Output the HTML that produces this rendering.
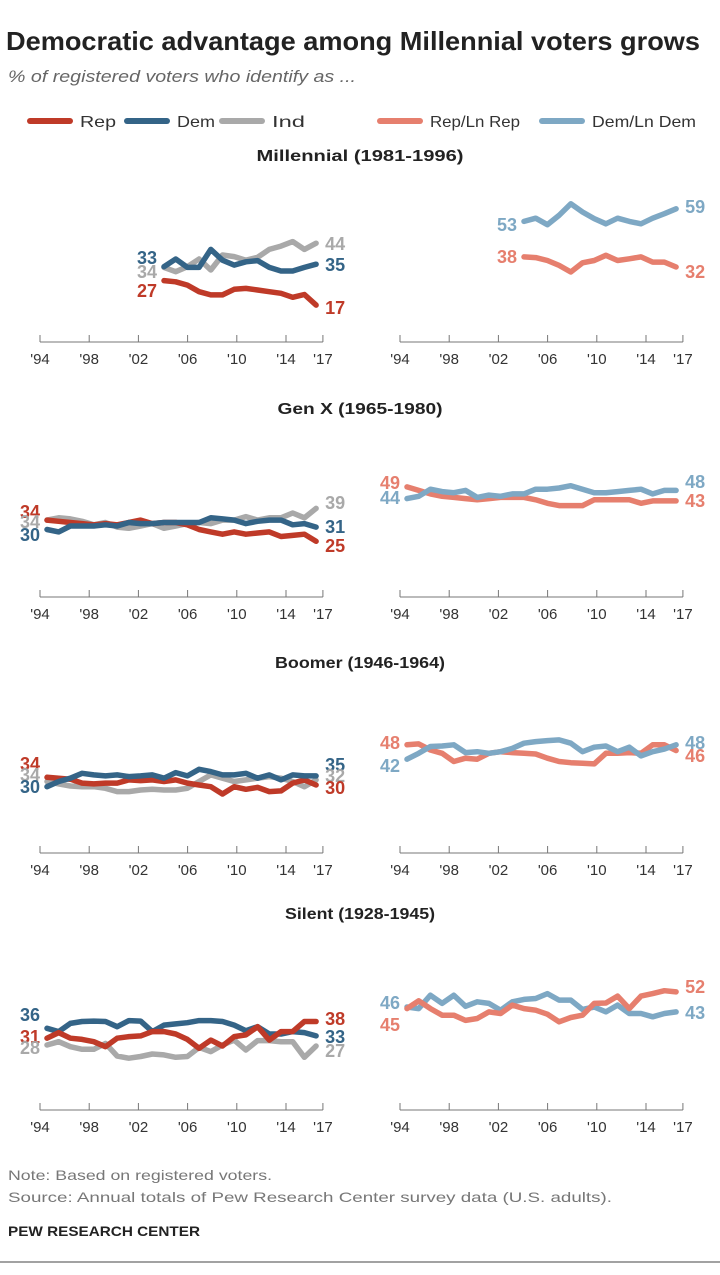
<!DOCTYPE html>
<html><head><meta charset="utf-8">
<style>
body{margin:0;background:#fff;}
svg text{font-family:"Liberation Sans",sans-serif;}
</style></head>
<body>
<svg id="c" width="720" height="1270" viewBox="0 0 720 1270" xmlns="http://www.w3.org/2000/svg">
<text x="6" y="50" font-size="26" font-weight="bold" fill="#222" textLength="694" lengthAdjust="spacingAndGlyphs">Democratic advantage among Millennial voters grows</text>
<text x="8" y="82" font-size="17" font-style="italic" fill="#666" textLength="348" lengthAdjust="spacingAndGlyphs">% of registered voters who identify as ...</text>
<g id="legend"></g>
<g id="panels"></g>
<text x="8" y="1180" font-size="14" fill="#777" textLength="264" lengthAdjust="spacingAndGlyphs">Note: Based on registered voters.</text>
<text x="8" y="1202" font-size="14" fill="#777" textLength="604" lengthAdjust="spacingAndGlyphs">Source: Annual totals of Pew Research Center survey data (U.S. adults).</text>
<text x="8" y="1236" font-size="14" font-weight="bold" fill="#222" textLength="192" lengthAdjust="spacingAndGlyphs">PEW RESEARCH CENTER</text>
<line x1="0" y1="1262" x2="720" y2="1262" stroke="#444" stroke-width="1"/>
</svg>
<script>
const NS="http://www.w3.org/2000/svg";
const tickYears=[1994,1998,2002,2006,2010,2014,2017];
const tickLabels=["'94","'98","'02","'06","'10","'14","'17"];
const yearsAll=[1994,1995,1996,1997,1998,1999,2000,2001,2002,2003,2004,2005,2006,2007,2008,2009,2010,2011,2012,2013,2014,2015,2016,2017];
const yearsMill=[2004,2005,2006,2007,2008,2009,2010,2011,2012,2013,2014,2015,2016,2017];
const panelTitles=["Millennial (1981-1996)","Gen X (1965-1980)","Boomer (1946-1964)","Silent (1928-1945)"];

const millRep=[27.4,26.9,25.5,22.7,21.3,21.3,23.7,24.1,23.4,22.7,22,20.3,21.5,17];
const millDem=[33.3,36.6,33,33,40.7,36.1,34,35.4,35.9,33,31.5,31.5,33,34.4];
const millInd=[33,31.2,33.3,36.6,31.9,38.3,37.6,36.1,37.3,40.7,42.1,44,40.7,43.3];
const millDemLn=[53,54.4,51.6,55.6,60.5,57,54.2,52,54.4,53,52,54.4,56.3,58.4];
const millRepLn=[37.9,37.6,36.4,34.3,31.5,35.4,36.4,38.6,36.4,37.1,37.9,35.7,35.7,33.6];

const genxRep=[34,33.5,33,32.5,32,32.5,32,33,34,32.5,33,33,32,30,29,28,29,28,28.5,29,27,27.5,28,25];
const genxDem=[30,29,31.5,31.5,31.5,32,31.5,33,32.5,32.5,33,33,33,33,35,34.5,34,32.5,33.5,34,34,32,32.5,31];
const genxInd=[34,35,34.5,33.5,32,33,31,30.5,31.5,32.5,30.5,31.5,32.5,33,32.5,34,34,35.5,34,35,35,37,35,39];
const genxRepLn=[49,47.5,46,45,44.5,44,43.5,44,44.5,44.5,44.5,43.5,42,41,41,41,43.5,43.5,43.5,43.5,42,43,43,43];
const genxDemLn=[44,45,48,47,46.5,47.5,44.5,45.5,45,46,46,48,48,48.5,49.5,48,46.5,46.5,47,47.5,48,46,47.5,47.5];

const boomRep=[33.5,33.1,32.7,31,30.7,31,31,32.4,32.1,32.4,31.7,32.4,31,30.2,29.5,26.4,29.5,28.4,29.2,27.4,27.7,31,32.4,30.2];
const boomDem=[29.5,31.7,33.1,35.2,34.5,34.1,34.5,33.8,34.1,34.5,33.1,35.5,34.1,36.9,35.9,34.5,34.5,35.2,33.1,34.5,32.4,34.5,34.1,34.1];
const boomInd=[31.7,30.7,29.8,29.5,29.5,28.8,27.4,27.4,28.1,28.4,28.1,28.1,28.8,31.7,34.5,33.1,31.7,32.4,33.1,33.8,33.1,31.7,29.5,32.4];
const boomRepLn=[47.3,47.7,45.1,43.7,40.2,41.6,41.2,43.7,44.4,44,43.7,43.4,41.6,40.2,39.7,39.5,39.2,43.7,43.7,44,43.7,47.3,47.3,44.9];
const boomDemLn=[41.2,43.7,46.6,46.8,47.3,44,44.4,43.7,44.4,45.8,48,48.7,49.1,49.4,48,44.4,46.3,46.8,44.4,46.3,42.6,44.4,45.5,47.3];

const silRep=[30.8,33.2,30.8,30.3,29.3,27.2,30.8,31.5,31.8,33.6,33.6,32.6,30.3,26.5,30,27.5,31.5,32.2,35.7,30,33.6,33.6,37.9,37.9];
const silDem=[35,33.6,37.1,37.9,38.1,37.9,35.7,38.3,38.1,33.6,36.4,36.9,37.4,38.3,38.3,37.9,36.4,34,35.7,32.6,32.6,33.6,33.2,31.8];
const silInd=[27.9,29.3,27.2,26.1,26.1,28.6,23.2,22.3,23,24.1,23.7,22.7,23,26.9,25.1,27.9,30,25.8,29.8,29.8,29.3,29.3,22.7,27.5];
const silRepLn=[44,47.3,44,41.2,41.2,39,39.8,42.6,41.9,45.5,44,43.3,41.6,38.4,40.2,41.2,46.2,46.4,49.3,44,49.3,50.4,51.6,51.1];
const silDemLn=[44.7,44,49.7,46.2,49.7,45,46.9,46.2,43.3,46.9,47.9,48.3,50.4,47.6,47.6,43.6,44.7,42.6,45.5,41.9,41.9,40.5,41.9,42.6];

const C={rep:"#bf3a28",dem:"#346487",ind:"#a9a9a9",repln:"#e67f6e",demln:"#7ea8c4"};
const svg=document.getElementById('c');
const panelsG=document.getElementById('panels');
function el(tag,attrs,parent){const e=document.createElementNS(NS,tag);for(const k in attrs)e.setAttribute(k,attrs[k]);(parent||svg).appendChild(e);return e;}

const legendItems=[["Rep",C.rep,30,36],["Dem",C.dem,127,38],["Ind",C.ind,222,33],["Rep/Ln Rep",C.repln,380,90],["Dem/Ln Dem",C.demln,542,104]];
const lg=document.getElementById('legend');
legendItems.forEach(it=>{
  const g=el('g',{},lg);
  
  
  el('line',{x1:it[2],y1:121,x2:it[2]+40,y2:121,stroke:it[1],'stroke-width':6,'stroke-linecap':'round'},g);
  const t=el('text',{x:it[2]+50,y:127,'font-size':16,fill:'#333',textLength:it[3],lengthAdjust:'spacingAndGlyphs'},g);t.textContent=it[0];
});

const axisYs=[342,597,853,1110];
const baseYs=[[345,346],[600,602],[856,856],[1110.6,1112]];
const titleYs=[161,414,668,919];
const titleWidths=[207,165,170,150];
const panelX0=[40,400];
function xTick(p,yr){return panelX0[p]+(yr-1994)*12.3;}
function xData(p,yr){return panelX0[p]+7+(yr-1994)*11.7;}
function yVal(r,p,v){return baseYs[r][p]-2.35*v;}

const panels=[
 {r:0,p:0,years:yearsMill,series:[["ind",millInd],["dem",millDem],["rep",millRep]]},
 {r:0,p:1,years:yearsMill,series:[["demln",millDemLn],["repln",millRepLn]]},
 {r:1,p:0,years:yearsAll,series:[["ind",genxInd],["rep",genxRep],["dem",genxDem]]},
 {r:1,p:1,years:yearsAll,series:[["repln",genxRepLn],["demln",genxDemLn]]},
 {r:2,p:0,years:yearsAll,series:[["ind",boomInd],["rep",boomRep],["dem",boomDem]]},
 {r:2,p:1,years:yearsAll,series:[["repln",boomRepLn],["demln",boomDemLn]]},
 {r:3,p:0,years:yearsAll,series:[["ind",silInd],["dem",silDem],["rep",silRep]]},
 {r:3,p:1,years:yearsAll,series:[["demln",silDemLn],["repln",silRepLn]]}
];
const labelSpec=[
 [["dem","33","s",264],["ind","34","s",278],["rep","27","s",297],["ind","44","e",250],["dem","35","e",271],["rep","17","e",314]],
 [["demln","53","s",231],["repln","38","s",263],["demln","59","e",213],["repln","32","e",278]],
 [["rep","34","s",518],["ind","34","s",528],["dem","30","s",541],["ind","39","e",509],["dem","31","e",533],["rep","25","e",552]],
 [["repln","49","s",489],["demln","44","s",504],["demln","48","e",488],["repln","43","e",507]],
 [["rep","34","s",770],["ind","34","s",781],["dem","30","s",793],["dem","35","e",771],["ind","32","e",782],["rep","30","e",794]],
 [["repln","48","s",749],["demln","42","s",772],["demln","48","e",749],["repln","46","e",762]],
 [["dem","36","s",1021],["rep","31","s",1043],["ind","28","s",1054],["rep","38","e",1025],["dem","33","e",1043],["ind","27","e",1057]],
 [["demln","46","s",1009],["repln","45","s",1031],["repln","52","e",993],["demln","43","e",1019]]
];

titleYs.forEach((ty,i)=>{
  const t=el('text',{x:360-titleWidths[i]/2,y:ty,'font-size':16,'font-weight':'bold',fill:'#222',textLength:titleWidths[i],lengthAdjust:'spacingAndGlyphs'},panelsG);
  
  
  t.textContent=panelTitles[i];
});

panels.forEach((pn,pi)=>{
  const g=el('g',{},panelsG);
  
  
  const ay=axisYs[pn.r];
  const ax=el('line',{x1:xTick(pn.p,1994),y1:ay,x2:xTick(pn.p,2017),y2:ay,stroke:'#777','stroke-width':1},g);
  
  
  tickYears.forEach((yr,i)=>{
    el('line',{x1:xTick(pn.p,yr),y1:ay,x2:xTick(pn.p,yr),y2:ay-7,stroke:'#777','stroke-width':1},g);
    const t=el('text',{x:xTick(pn.p,yr),y:ay+22,'font-size':15,fill:'#333','text-anchor':'middle'},g);
    
    
    t.textContent=tickLabels[i];
  });
  pn.series.forEach(s=>{
    const pts=pn.years.map((yr,i)=>xData(pn.p,yr).toFixed(1)+','+yVal(pn.r,pn.p,s[1][i]).toFixed(1)).join(' ');
    const pl=el('polyline',{points:pts,fill:'none',stroke:C[s[0]],'stroke-width':5.5,'stroke-linejoin':'round','stroke-linecap':'round'},g);
    
    
  });
  const x0=xData(pn.p,pn.years[0]), x1=xData(pn.p,pn.years[pn.years.length-1]);
  labelSpec[pi].forEach(l=>{
    const t=el('text',{x:l[2]==='s'?x0-7:x1+9,y:l[3],'font-size':18,'font-weight':'bold',fill:C[l[0]],'text-anchor':l[2]==='s'?'end':'start'},g);
    
    
    t.textContent=l[1];
  });
});
</script>
</body></html>
